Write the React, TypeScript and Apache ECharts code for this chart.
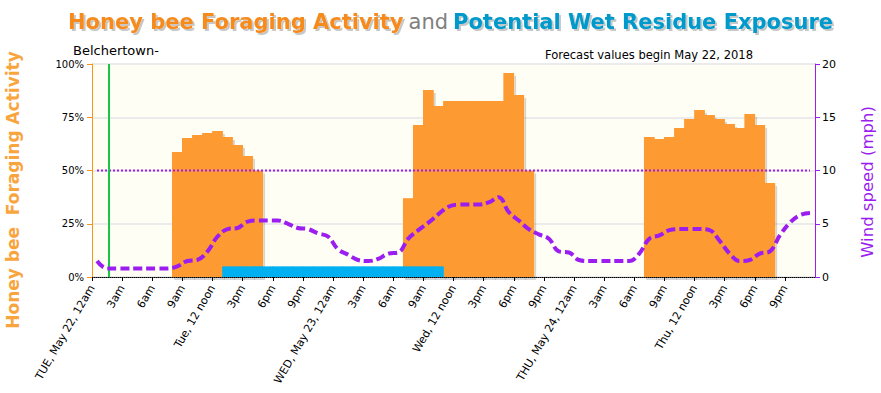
import React, { useEffect, useRef } from "react";
import * as echarts from "echarts";

// x axis tick labels, one every 3 hours starting Tue May 22, 12am
const tickLabels: string[] = [
  "TUE, May 22, 12am", "3am", "6am", "9am", "Tue, 12 noon", "3pm", "6pm", "9pm",
  "WED, May 23, 12am", "3am", "6am", "9am", "Wed, 12 noon", "3pm", "6pm", "9pm",
  "THU, May 24, 12am", "3am", "6am", "9am", "Thu, 12 noon", "3pm", "6pm", "9pm",
];

// Honey bee foraging activity (%) per hour, hours 0..71
const foraging: (number | null)[] = [
  null, null, null, null, null, null, null, null,
  58.7, 65.3, 66.7, 67.6, 68.5, 65.7, 62, 56.8, 50,
  null, null, null, null, null, null, null, null, null, null, null, null, null, null,
  37, 71.4, 87.8, 80.3, 82.6, 82.6, 82.6, 82.6, 82.6, 82.6, 95.8, 85.4, 50,
  null, null, null, null, null, null, null, null, null, null, null,
  65.7, 64.8, 65.7, 70, 74.2, 78.4, 76, 74.2, 71.8, 70, 76.5, 71.4, 44.1,
  null, null, null, null,
];

// Potential wet residue exposure (drawn as 5% band) per hour
const wetResidue: (number | null)[] = [
  null, null, null, null, null, null, null, null, null, null, null, null, null,
  5, 5, 5, 5, 5, 5, 5, 5, 5, 5, 5, 5, 5, 5, 5, 5, 5, 5, 5, 5, 5, 5,
  null, null, null, null, null, null, null, null, null, null, null, null, null,
  null, null, null, null, null, null, null, null, null, null, null, null,
  null, null, null, null, null, null, null, null, null, null, null, null,
];

// Wind speed (mph) per hour
const windSpeed: number[] = [
  1.5, 0.8, 0.8, 0.8, 0.8, 0.8, 0.8, 0.8,
  1.0, 1.5, 1.6, 2.4, 3.8, 4.5, 4.6, 5.2, 5.3, 5.3, 5.3,
  5.0, 4.6, 4.5, 4.1, 3.8,
  2.6, 2.1, 1.6, 1.5, 1.7, 2.2, 2.3,
  3.6, 4.4, 5.1, 5.9, 6.6, 6.8, 6.8, 6.8, 7.0, 7.5,
  6.1, 5.3, 4.5, 4.0, 3.6, 2.4, 2.3,
  1.6, 1.5, 1.5, 1.5, 1.5, 1.5,
  2.2, 3.6, 3.9, 4.4, 4.5, 4.5, 4.5, 4.4, 3.4, 2.2, 1.5, 1.6, 2.2, 2.4, 3.9, 5.1, 5.8, 6.0,
];

const windThreshold = 10; // mph
const nowMarkerHour = 1.66;
const hoursShown = 72;

const ORANGE = "#fe9a30";
const BLUE = "#00b0f0";
const PURPLE = "#9b1df0";
const FONT = "DejaVu Sans";

export default function App() {
  const ref = useRef<HTMLDivElement>(null);

  useEffect(() => {
    if (!ref.current) return;
    const chart = echarts.init(ref.current, undefined, { renderer: "svg" });

    const toPairs = (arr: (number | null)[]) =>
      arr
        .map((v, i) => (v == null ? null : [i + 0.5, v]))
        .filter((p) => p !== null) as number[][];

    const gridLeft = 92;
    const gridRight = 66;
    const plotWidth = 881 - gridLeft - gridRight;
    const barW = plotWidth / hoursShown + 0.7;

    const titleShadow = {
      textShadowColor: "rgba(0,0,0,0.22)",
      textShadowOffsetX: 2,
      textShadowOffsetY: 2,
      textShadowBlur: 1,
    };

    const option: any = {
      animation: false,
      backgroundColor: "#ffffff",
      title: {
        left: 68,
        top: 11,
        padding: 0,
        text:
          "{a|Honey bee Foraging Activity} {b|and} {c|Potential Wet Residue Exposure}",
        textStyle: {
          fontWeight: "normal",
          rich: {
            a: {
              fontFamily: FONT,
              fontSize: 21,
              fontWeight: "bold",
              color: "#f68b1f",
              ...titleShadow,
            },
            b: {
              fontFamily: FONT,
              fontSize: 21,
              fontWeight: "normal",
              color: "#808080",
            },
            c: {
              fontFamily: FONT,
              fontSize: 21,
              fontWeight: "bold",
              color: "#0099cc",
              ...titleShadow,
            },
          },
        },
      },
      grid: {
        left: gridLeft,
        right: gridRight,
        top: 64,
        bottom: 116,
        show: true,
        backgroundColor: "#fffef4",
        borderWidth: 0,
      },
      xAxis: {
        type: "value",
        min: 0,
        max: hoursShown,
        interval: 3,
        axisLine: { show: true, lineStyle: { color: "#000", type: "dotted", width: 1 } },
        axisTick: { show: true, length: 4, lineStyle: { color: "#000" } },
        splitLine: { show: false },
        axisLabel: {
          rotate: 60,
          fontSize: 11,
          fontFamily: FONT,
          color: "#000",
          margin: 9,
          showMaxLabel: false,
          formatter: (v: number) => tickLabels[Math.round(v / 3)] ?? "",
        },
      },
      yAxis: [
        {
          type: "value",
          min: 0,
          max: 100,
          interval: 25,
          position: "left",
          axisLine: { show: true, lineStyle: { color: "#f7941d", width: 1 } },
          axisTick: { show: true, length: 5, lineStyle: { color: "#f7941d" } },
          axisLabel: { formatter: "{value}%", fontSize: 10, fontFamily: FONT, color: "#000", margin: 8 },
          splitLine: { show: true, lineStyle: { color: "#ebebeb", width: 2 } },
        },
        {
          type: "value",
          min: 0,
          max: 20,
          interval: 5,
          position: "right",
          axisLine: { show: true, lineStyle: { color: PURPLE, width: 1 } },
          axisTick: { show: true, length: 5, lineStyle: { color: PURPLE } },
          axisLabel: { fontSize: 11, fontFamily: FONT, color: "#000", margin: 7 },
          splitLine: { show: false },
        },
      ],
      graphic: [
        {
          type: "text",
          x: 13,
          y: 190,
          rotation: Math.PI / 2,
          style: {
            text: "Honey bee  Foraging Activity",
            fontFamily: FONT,
            fontSize: 17,
            fontWeight: "bold",
            fill: "#f9a53e",
            align: "center",
            verticalAlign: "middle",
          },
        },
        {
          type: "text",
          x: 867,
          y: 182,
          rotation: Math.PI / 2,
          style: {
            text: "Wind speed (mph)",
            fontFamily: FONT,
            fontSize: 16.5,
            fill: PURPLE,
            align: "center",
            verticalAlign: "middle",
          },
        },
        {
          type: "text",
          x: 73,
          y: 50,
          style: {
            text: "Belchertown-",
            fontFamily: FONT,
            fontSize: 13,
            fill: "#000",
            align: "left",
            verticalAlign: "middle",
          },
        },
        {
          type: "text",
          x: 545,
          y: 54,
          style: {
            text: "Forecast values begin May 22, 2018",
            fontFamily: "DejaVu Sans Condensed",
            fontSize: 12.8,
            fill: "#000",
            align: "left",
            verticalAlign: "middle",
          },
        },
      ],
      series: [
        {
          name: "Foraging Activity",
          type: "bar",
          yAxisIndex: 0,
          data: toPairs(foraging),
          barWidth: barW,
          barGap: "-100%",
          itemStyle: {
            color: ORANGE,
            shadowColor: "rgba(0,0,0,0.16)",
            shadowOffsetX: 2,
            shadowOffsetY: 3,
            shadowBlur: 0,
          },
        },
        {
          name: "Wet Residue",
          type: "bar",
          yAxisIndex: 0,
          data: toPairs(wetResidue),
          barWidth: barW,
          barGap: "-100%",
          itemStyle: { color: BLUE },
        },
        {
          name: "Wind speed",
          type: "line",
          yAxisIndex: 1,
          data: windSpeed.map((v, i) => [i + 0.5, v]),
          smooth: 0.4,
          symbol: "none",
          lineStyle: { color: PURPLE, width: 4, type: [9, 4] },
          z: 5,
        },
        {
          name: "Wind threshold",
          type: "line",
          yAxisIndex: 1,
          data: [
            [0.5, windThreshold],
            [hoursShown - 0.5, windThreshold],
          ],
          symbol: "none",
          lineStyle: { color: PURPLE, width: 2, type: "dotted" },
          z: 4,
          markLine: {
            symbol: "none",
            silent: true,
            label: { show: false },
            lineStyle: { color: "#16c843", width: 2, type: "solid" },
            data: [{ xAxis: nowMarkerHour }],
          },
        },
      ],
    };

    chart.setOption(option);
    return () => chart.dispose();
  }, []);

  return (
    <div
      ref={ref}
      style={{ position: "absolute", left: 0, top: 0, width: 881, height: 393 }}
    />
  );
}
